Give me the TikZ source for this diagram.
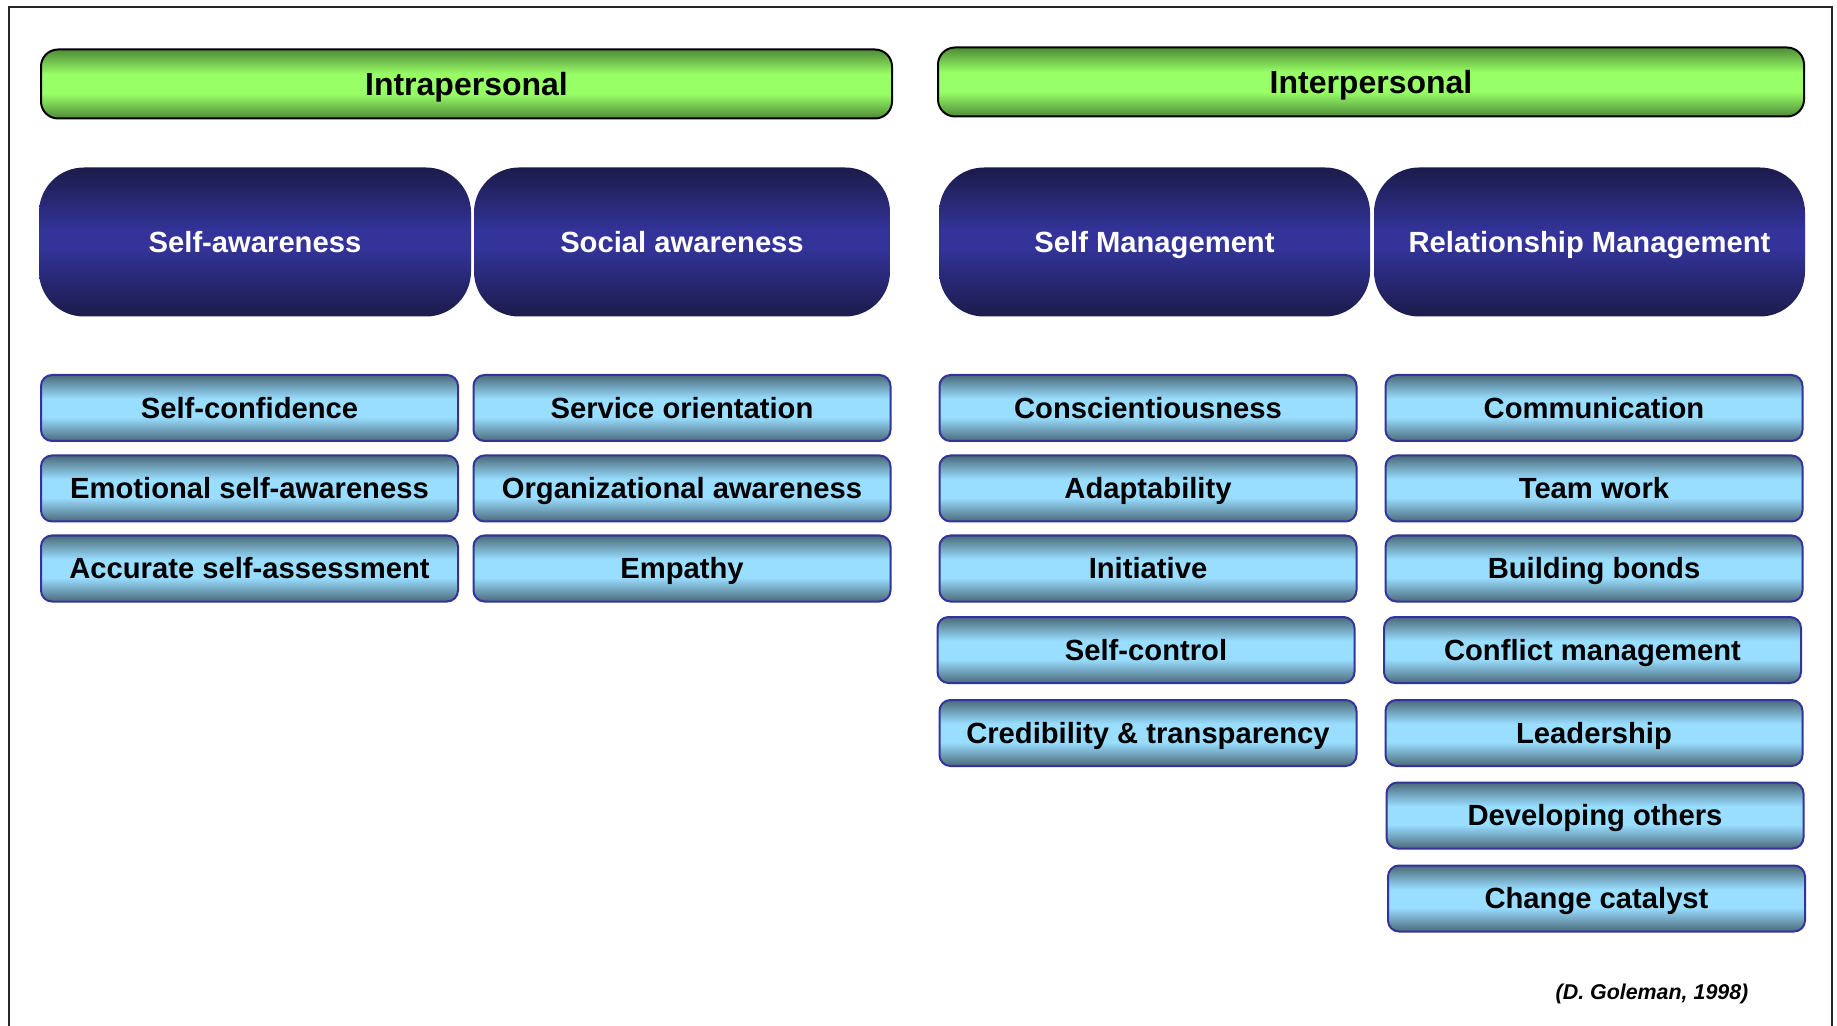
\documentclass[tikz,border=0pt]{standalone}
\usepackage{fontspec}
\setmainfont{Liberation Sans}
\definecolor{gdark}{RGB}{78,138,56}
\definecolor{glight}{RGB}{153,255,102}
\definecolor{bdark}{RGB}{27,27,74}
\definecolor{bmid}{RGB}{51,51,153}
\definecolor{ldark}{RGB}{74,106,122}
\definecolor{llight}{RGB}{153,221,255}
\definecolor{lborder}{RGB}{51,51,153}
\pgfdeclareverticalshading{greenshade}{100bp}{color(0bp)=(gdark); color(25bp)=(gdark); color(43bp)=(glight); color(57bp)=(glight); color(75bp)=(gdark); color(100bp)=(gdark)}
\pgfdeclareverticalshading{blueshade}{100bp}{color(0bp)=(bdark); color(25bp)=(bdark); color(48bp)=(bmid); color(54bp)=(bmid); color(75bp)=(bdark); color(100bp)=(bdark)}
\pgfdeclareverticalshading{lightshade}{100bp}{color(0bp)=(ldark); color(25bp)=(ldark); color(43bp)=(llight); color(57bp)=(llight); color(75bp)=(ldark); color(100bp)=(ldark)}
\tikzset{
  gbar/.style={draw=black, line width=1pt, rounded corners=8.5pt, shading=greenshade,
    minimum height=34.5pt, inner sep=0pt, font=\fontsize{16}{19}\selectfont\bfseries,
    text height=11.46pt, text depth=0pt},
  bbox/.style={rounded corners=22.5pt, shading=blueshade, text=white,
    minimum height=74.5pt, inner sep=0pt, font=\fontsize{14.6}{17}\selectfont\bfseries,
    text height=10.45pt, text depth=0pt},
  lbox/.style={draw=lborder, line width=1pt, rounded corners=5.5pt, shading=lightshade,
    minimum width=208.5pt, minimum height=33pt, inner sep=0pt, font=\fontsize{14.6}{17}\selectfont\bfseries,
    text height=10.45pt, text depth=0pt},
  cite/.style={font=\fontsize{10.7}{13}\selectfont\bfseries\itshape, inner sep=0pt,
    text height=7.66pt, text depth=0pt}
}
\begin{document}
\begin{tikzpicture}[x=0.5pt,y=-0.5pt]
\useasboundingbox (0,0) rectangle (1837,1026);
\fill[white] (0,0) rectangle (1837,1026);
\draw[line width=1.1pt, black!85] (9,1026) -- (9,7) -- (1832,7) -- (1832,1026);

% headers
\node[gbar, minimum width=425.5pt] (intra) at (466.5,84) {Intrapersonal};
\node[gbar, minimum width=433pt] (inter) at (1371,82) {Interpersonal};

% clusters
\node[bbox, minimum width=216pt] (sa) at (255,242) {Self-awareness};
\node[bbox, minimum width=208pt] (soa) at (682,242) {Social awareness};
\node[bbox, minimum width=215.5pt] (sm) at (1154.5,242) {Self Management};
\node[bbox, minimum width=215.5pt] (rm) at (1589.5,242) {Relationship Management};

% column 1
\node[lbox] (c1a) at (249.5,408) {Self-confidence};
\node[lbox] (c1b) at (249.5,488.5) {Emotional self-awareness};
\node[lbox] (c1c) at (249.5,568.5) {Accurate self-assessment};

% column 2
\node[lbox] (c2a) at (682,408) {Service orientation};
\node[lbox] (c2b) at (682,488.5) {Organizational awareness};
\node[lbox] (c2c) at (682,568.5) {Empathy};

% column 3
\node[lbox] (c3a) at (1148,408) {Conscientiousness};
\node[lbox] (c3b) at (1148,488.5) {Adaptability};
\node[lbox] (c3c) at (1148,568.5) {Initiative};
\node[lbox] (c3d) at (1146,650) {Self-control};
\node[lbox] (c3e) at (1148,733) {Credibility \& transparency};

% column 4
\node[lbox] (c4a) at (1594,408) {Communication};
\node[lbox] (c4b) at (1594,488.5) {Team work};
\node[lbox] (c4c) at (1594,568.5) {Building bonds};
\node[lbox] (c4d) at (1592.5,650) {Conflict management};
\node[lbox] (c4e) at (1594,733) {Leadership};
\node[lbox] (c4f) at (1595,815.5) {Developing others};
\node[lbox] (c4g) at (1596.5,898.5) {Change catalyst};

\node[cite] (src) at (1652,992) {(D. Goleman, 1998)};
\end{tikzpicture}
\end{document}
